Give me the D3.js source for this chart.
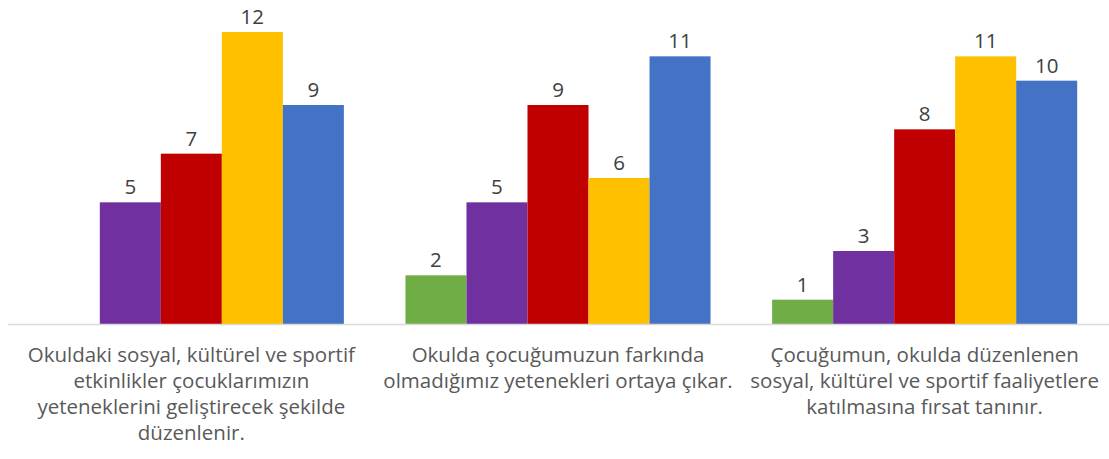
<!DOCTYPE html>
<html>
<head>
<meta charset="utf-8">
<script src="https://cdnjs.cloudflare.com/ajax/libs/d3/7.8.5/d3.min.js"></script>
<style>
  body { margin: 0; background: #fff; }
  svg { display: block; font-family: "Open Sans", sans-serif; }
</style>
</head>
<body>
<svg></svg>
<script>
var width = 1109;
var height = 459;

// categories (line breaks as in the original)
var categories = [
    "Okuldaki sosyal, kültürel ve sportif\netkinlikler çocuklarımızın\nyeteneklerini geliştirecek şekilde\ndüzenlenir.",
    "Okulda çocuğumuzun farkında\nolmadığımız yetenekleri ortaya çıkar.",
    "Çocuğumun, okulda düzenlenen\nsosyal, kültürel ve sportif faaliyetlere\nkatılmasına fırsat tanınır."
];

// series (one value per category, null = no bar)
var seriesNames = ["s1", "s2", "s3", "s4", "s5"];
var seriesColors = ["#70AD47", "#7030A0", "#C00000", "#FFC000", "#4472C4"];
var s1 = [null, 2, 1];
var s2 = [5, 5, 3];
var s3 = [7, 9, 8];
var s4 = [12, 6, 11];
var s5 = [9, 11, 10];
var seriesValues = [s1, s2, s3, s4, s5];

var svg = d3.select("svg")
    .attr("width", width)
    .attr("height", height);

var x0 = d3.scaleBand()
    .domain(d3.range(categories.length))
    .range([8, 1108])
    .paddingInner(0.168)
    .paddingOuter(0.084);

var x1 = d3.scaleBand()
    .domain(seriesNames)
    .range([0, x0.bandwidth()]);

var y = d3.scaleLinear()
    .domain([0, 12])
    .range([324, 32]);

//build flat list of bars
var bars = [];
categories.forEach(function(c, i) {
    seriesNames.forEach(function(s, j) {
        var v = seriesValues[j][i];
        if (v != null) bars.push({cat: i, series: s, color: seriesColors[j], value: v});
    });
});

var g = svg.append("g");

g.selectAll("rect")
    .data(bars)
    .enter().append("rect")
    .attr("x", function(d) { return x0(d.cat) + x1(d.series); })
    .attr("y", function(d) { return y(d.value); })
    .attr("width", x1.bandwidth())
    .attr("height", function(d) { return y(0) - y(d.value); })
    .attr("fill", function(d) { return d.color; });

// value labels
g.selectAll("text.val")
    .data(bars)
    .enter().append("text")
    .attr("class", "val")
    .attr("x", function(d) { return x0(d.cat) + x1(d.series) + x1.bandwidth() / 2; })
    .attr("y", function(d) { return y(d.value) - 8; })
    .attr("text-anchor", "middle")
    .style("font-size", "20.5px")
    .style("fill", "#404040")
    .text(function(d) { return d.value; });

// x axis line
svg.append("line")
    .attr("x1", x0.range()[0])
    .attr("x2", width)
    .attr("y1", y(0) + 0.5)
    .attr("y2", y(0) + 0.5)
    .style("stroke", "#d9d9d9")
    .style("stroke-width", 1.5);

// category labels
var labels = svg.selectAll("text.cat")
    .data(categories)
    .enter().append("text")
    .attr("class", "cat")
    .attr("text-anchor", "middle")
    .style("font-size", "20.5px")
    .style("fill", "#595959");

labels.each(function(d, i) {
    var t = d3.select(this);
    d.split("\n").forEach(function(line, k) {
        t.append("tspan")
            .attr("x", x0(i) + x0.bandwidth() / 2)
            .attr("y", 362 + k * 26)
            .text(line);
    });
});
</script>
</body>
</html>
